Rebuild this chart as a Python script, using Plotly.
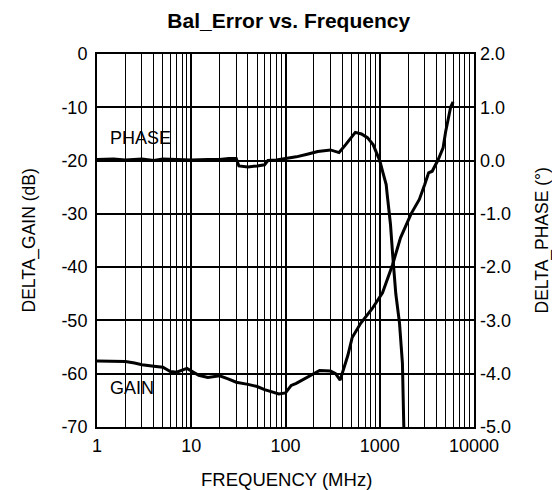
import plotly.graph_objects as go

# Gain curve (left axis, dB)
gain_freq = [1, 1.5, 2, 2.5, 3, 4, 5, 6, 7, 9, 10.5, 12, 15, 20, 25, 30, 40, 50, 60, 70, 85,
             100, 115, 130, 170, 230, 300, 340, 380, 420, 460, 510, 630, 830, 1070, 1370, 1660,
             2150, 2630, 3000, 3300, 3600, 4150, 4700, 5000, 5650, 6000]
gain_db = [-57.6, -57.6, -57.7, -58.0, -58.3, -58.6, -58.8, -59.6, -59.7, -59.0, -59.7, -60.3,
           -60.7, -60.4, -61.0, -61.6, -62.0, -62.4, -63.0, -63.4, -63.8, -63.6, -62.2, -61.8,
           -60.7, -59.4, -59.5, -60.0, -61.2, -58.8, -56.5, -53.2, -50.5, -47.8, -44.8, -39.5,
           -34.5, -30.0, -27.3, -24.5, -22.3, -22.0, -19.9, -17.6, -14.6, -10.0, -9.0]

# Phase curve (right axis, degrees)
phase_freq = [1, 1.5, 2, 3, 4, 5, 7, 10, 15, 20, 25, 30, 32, 40, 50, 60, 65, 80, 100, 130, 170,
              220, 300, 370, 435, 500, 550, 640, 740, 850, 910, 1000, 1070, 1170, 1200, 1300,
              1370, 1480, 1620, 1740, 1800]
phase_deg = [0.02, 0.03, 0.01, 0.03, 0.0, 0.03, 0.02, 0.01, 0.02, 0.02, 0.04, 0.04, -0.1, -0.12,
             -0.1, -0.08, 0.0, 0.01, 0.04, 0.07, 0.12, 0.17, 0.2, 0.15, 0.3, 0.45, 0.53, 0.5,
             0.43, 0.3, 0.17, 0.0, -0.2, -0.45, -0.64, -1.2, -1.76, -2.5, -3.05, -3.8, -5.0]

left_ticks = [0, -10, -20, -30, -40, -50, -60, -70]
left_labels = ["0", "-10", "-20", "-30", "-40", "-50", "-60", "-70"]
right_ticks = [2, 1, 0, -1, -2, -3, -4, -5]
right_labels = ["2.0", "1.0", "0.0", "-1.0", "-2.0", "-3.0", "-4.0", "-5.0"]
x_ticks = [1, 10, 100, 1000, 10000]
x_labels = ["1", "10", "100", "1000", "10000"]

FONT = "Liberation Sans, Arial, sans-serif"
minor_vals = [m * 10 ** d for d in range(4) for m in range(2, 10)]

W, H = 560, 490
L, R, T, B = 89, 94, 46, 71   # plot area margins
pw, ph = W - L - R, H - T - B


def px(xp):
    return (xp - L) / pw


def py(yp):
    return (H - B - yp) / ph


fig = go.Figure()
fig.add_trace(go.Scatter(x=gain_freq, y=gain_db, mode="lines",
                         line=dict(color="black", width=3), yaxis="y", showlegend=False))
fig.add_trace(go.Scatter(x=phase_freq, y=phase_deg, mode="lines",
                         line=dict(color="black", width=3), yaxis="y2", showlegend=False))

fig.update_layout(
    width=W, height=H,
    margin=dict(l=L, r=R, t=T, b=B),
    paper_bgcolor="white", plot_bgcolor="white",
    font=dict(family=FONT, color="black", size=16),
    title=dict(text="<b>Bal_Error vs. Frequency</b>", x=px(278), xanchor="center",
               y=1 - 13 / H, yanchor="middle", font=dict(size=21, family=FONT)),
    xaxis=dict(type="log", range=[0, 4], tickvals=x_ticks, ticktext=x_labels,
               showgrid=True, gridcolor="black", gridwidth=1.5, ticks="",
               showline=True, linecolor="black", linewidth=2, mirror=True,
               zeroline=False, tickfont=dict(size=18), ticklabelstandoff=1,
               minor=dict(tickvals=minor_vals, showgrid=True, gridcolor="black",
                          gridwidth=1, ticks="")),
    yaxis=dict(range=[-70, 0], tickvals=left_ticks, ticktext=left_labels,
               showgrid=True, gridcolor="black", gridwidth=1.5, ticks="",
               showline=True, linecolor="black", linewidth=2, mirror=True,
               zeroline=False, tickfont=dict(size=18), ticklabelstandoff=4),
    yaxis2=dict(range=[-5, 2], tickvals=right_ticks, ticktext=right_labels,
                overlaying="y", side="right", showgrid=False, ticks="",
                zeroline=False, tickfont=dict(size=18), ticklabelstandoff=5),
    annotations=[
        dict(text="FREQUENCY (MHz)", xref="paper", yref="paper", x=px(278), y=py(471),
             xanchor="center", yanchor="middle", showarrow=False, font=dict(size=18.5)),
        dict(text="DELTA_GAIN (dB)", xref="paper", yref="paper", x=px(21), y=0.5,
             xanchor="center", yanchor="middle", textangle=-90, showarrow=False,
             font=dict(size=17.5)),
        dict(text="DELTA_PHASE (°)", xref="paper", yref="paper", x=px(534), y=0.5,
             xanchor="center", yanchor="middle", textangle=-90, showarrow=False,
             font=dict(size=17.5)),
        dict(text="PHASE", xref="paper", yref="paper", x=px(100), y=0.775,
             xanchor="left", yanchor="middle", showarrow=False, font=dict(size=18)),
        dict(text="GAIN", xref="paper", yref="paper", x=px(100), y=0.105,
             xanchor="left", yanchor="middle", showarrow=False, font=dict(size=18)),
    ],
)

fig.write_html("out.html")
